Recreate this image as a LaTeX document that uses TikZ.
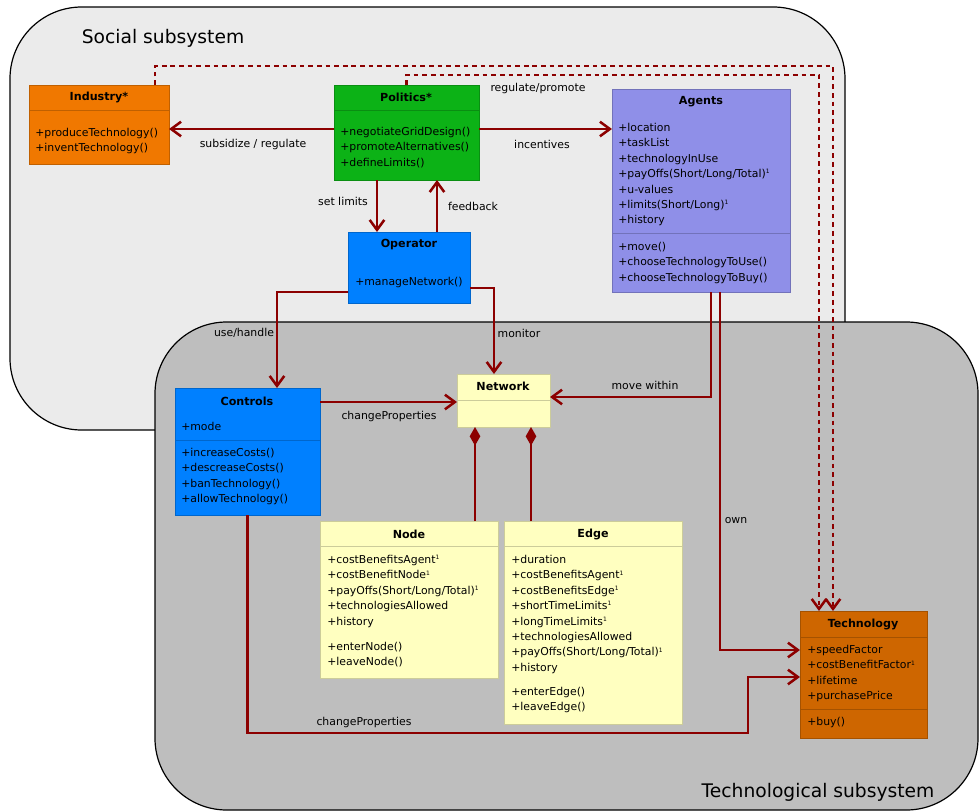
\documentclass[tikz,border=0pt]{standalone}
\usepackage{fontspec}
\setmainfont{DejaVu Sans}
\usetikzlibrary{arrows.meta,fit}

\definecolor{socialbg}{RGB}{235,235,235}
\definecolor{techbg}{RGB}{190,190,190}
\definecolor{indcol}{RGB}{240,120,0}
\definecolor{polcol}{RGB}{12,178,22}
\definecolor{agecol}{RGB}{143,143,232}
\definecolor{opcol}{RGB}{0,128,255}
\definecolor{netcol}{RGB}{255,255,192}
\definecolor{tecol}{RGB}{206,102,0}
\definecolor{arrowred}{RGB}{140,0,0}

\newcommand{\px}{0.0265cm}
\newcommand{\one}{\textsuperscript{\fontsize{4.5}{5}\selectfont 1}}

\begin{document}
\begin{tikzpicture}[x=0.0265cm,y=-0.0265cm,
	cls/.style={inner sep=0pt,outer sep=0pt,draw=#1!80!black,fill=#1,line width=0.5pt},
	sep/.style={draw=#1!80!black,line width=0.5pt},
	ttl/.style={inner sep=0pt,font=\bfseries\fontsize{8.4}{10}\selectfont},
	attr/.style={anchor=north west,align=left,inner sep=0pt,font=\fontsize{8.2}{11.6}\selectfont},
	lbl/.style={inner sep=0pt,font=\fontsize{8.2}{10}\selectfont},
	subttl/.style={inner sep=0pt,font=\fontsize{14.1}{16}\selectfont},
	region/.style={draw=black,line width=0.9pt,rounded corners=1.9cm},
	conn/.style={draw=arrowred,line width=1.9pt,-{Straight Barb[length=7.5pt,width=11pt]}},
	dep/.style={conn,dash pattern=on 3.5pt off 3pt},
	comp/.style={draw=arrowred,line width=1.9pt,-{Diamond[length=14pt,width=8pt]}}]
	\useasboundingbox (0,0) rectangle (980,812);

	% the two subsystems
	\draw[region,fill=socialbg] (10,7) rectangle (845,430);
	\node[subttl] (socialT) at (163,38) {Social subsystem};
	\draw[region,fill=techbg] (155,322) rectangle (978,810);
	\node[subttl] (techT) at (818,792) {Technological subsystem};

	% social classes
	\node[cls=indcol,fit={(29,85) (169,164)}] (industry) {};
	\draw[sep=indcol] (29,110) -- (169,110);
	\node[ttl] (industryT) at (99,97) {Industry*};
	\node[attr] (industryM) at (35,128) {+produceTechnology()\\+inventTechnology()};

	\node[cls=polcol,fit={(334,85) (479,180)}] (politics) {};
	\draw[sep=polcol] (334,110) -- (479,110);
	\node[ttl] (politicsT) at (406,97) {Politics*};
	\node[attr] (politicsM) at (340,127) {+negotiateGridDesign()\\+promoteAlternatives()\\+defineLimits()};

	\node[cls=agecol,fit={(612,89) (790,292)}] (agents) {};
	\draw[sep=agecol] (612,233) -- (790,233);
	\node[ttl] (agentsT) at (701,102) {Agents};
	\node[attr] (agentsA) at (618,123) {+location\\+taskList\\+technologyInUse\\+payOffs(Short/Long/Total)\one\\+u-values\\+limits(Short/Long)\one\\+history};
	\node[attr] (agentsM) at (618,242) {+move()\\+chooseTechnologyToUse()\\+chooseTechnologyToBuy()};

	\node[cls=opcol,fit={(348,232) (470,303)}] (operator) {};
	\node[ttl] (operatorT) at (409,245) {Operator};
	\node[attr] (operatorM) at (355,277) {+manageNetwork()};

	% technological classes
	\node[cls=opcol,fit={(175,388) (320,515)}] (controls) {};
	\draw[sep=opcol] (175,440) -- (320,440);
	\node[ttl] (controlsT) at (247,401) {Controls};
	\node[attr] (controlsA) at (181,422) {+mode};
	\node[attr] (controlsM) at (181,448) {+increaseCosts()\\+descreaseCosts()\\+banTechnology()\\+allowTechnology()};

	\node[cls=netcol,fit={(457,374) (550,427)}] (network) {};
	\draw[sep=netcol] (457,400) -- (550,400);
	\node[ttl] (networkT) at (503,386) {Network};

	\node[cls=netcol,fit={(320,521) (498,678)}] (nodebox) {};
	\draw[sep=netcol] (320,546) -- (498,546);
	\node[ttl] (nodeT) at (409,534) {Node};
	\node[attr] (nodeA) at (327,555) {+costBenefitsAgent\one\\+costBenefitNode\one\\+payOffs(Short/Long/Total)\one\\+technologiesAllowed\\+history};
	\node[attr] (nodeM) at (327,642) {+enterNode()\\+leaveNode()};

	\node[cls=netcol,fit={(504,521) (682,724)}] (edgebox) {};
	\draw[sep=netcol] (504,546) -- (682,546);
	\node[ttl] (edgeT) at (593,534) {Edge};
	\node[attr] (edgeA) at (511,555) {+duration\\+costBenefitsAgent\one\\+costBenefitsEdge\one\\+shortTimeLimits\one\\+longTimeLimits\one\\+technologiesAllowed\\+payOffs(Short/Long/Total)\one\\+history};
	\node[attr] (edgeM) at (511,687) {+enterEdge()\\+leaveEdge()};

	\node[cls=tecol,fit={(800,611) (927,738)}] (technology) {};
	\draw[sep=tecol] (800,637) -- (927,637);
	\draw[sep=tecol] (800,709) -- (927,709);
	\node[ttl] (technologyT) at (863,624) {Technology};
	\node[attr] (technologyA) at (807,645) {+speedFactor\\+costBenefitFactor\one\\+lifetime\\+purchasePrice};
	\node[attr] (technologyM) at (807,717) {+buy()};

	% bends of the long connectors
	\coordinate (dashA) at (500,66);
	\coordinate (dashB) at (600,75);
	\coordinate (cpbend) at (748,733);

	% connectors
	\draw[dep] ([xshift=56*\px]industry.north) |- (dashA) -| ([xshift=-30.5*\px]technology.north);
	\draw[dep] (politics.north) |- (dashB) -| ([xshift=-44.5*\px]technology.north);
	\draw[conn] ([yshift=3.5*\px]politics.west) -- ([yshift=3.5*\px]politics.west -| industry.east);
	\draw[conn] ([yshift=3.5*\px]politics.east) -- ([yshift=3.5*\px]politics.east -| agents.west);
	\draw[conn] ([xshift=-29.5*\px]politics.south) -- ([xshift=-29.5*\px]politics.south |- operator.north);
	\draw[conn] ([xshift=30.5*\px]operator.north -| politics.south) -- ([xshift=30.5*\px]politics.south);
	\draw[conn] ([yshift=-24.5*\px]operator.west) -| ([xshift=29.5*\px]controls.north);
	\draw[conn] ([yshift=-20.5*\px]operator.east) -| ([xshift=-9.5*\px]network.north);
	\draw[conn] ([xshift=10*\px]agents.south) |- ([yshift=3.5*\px]network.east);
	\draw[conn] ([xshift=19*\px]agents.south) |- ([yshift=24.5*\px]technology.west);
	\draw[conn] ([yshift=49.5*\px]controls.east) -- ([yshift=49.5*\px]controls.east -| network.west);
	\draw[conn] (controls.south) |- (cpbend) |- ([yshift=-2.5*\px]technology.west);
	\draw[comp] ([xshift=-28.5*\px]network.south |- nodebox.north) -- ([xshift=-28.5*\px]network.south);
	\draw[comp] ([xshift=27.5*\px]network.south |- edgebox.north) -- ([xshift=27.5*\px]network.south);

	% connector labels
	\node[lbl] (lsubs) at (253,144) {subsidize / regulate};
	\node[lbl] (linc) at (542,144) {incentives};
	\node[lbl] (lset) at (343,201) {set limits};
	\node[lbl] (lfeed) at (473,206) {feedback};
	\node[lbl] (lreg) at (538,88) {regulate/promote};
	\node[lbl] (luse) at (244,333) {use/handle};
	\node[lbl] (lmon) at (519,333) {monitor};
	\node[lbl] (lmove) at (645,385) {move within};
	\node[lbl] (lchange) at (389,416) {changeProperties};
	\node[lbl] (lown) at (736,521) {own};
	\node[lbl] (lchangeb) at (364,722) {changeProperties};
\end{tikzpicture}
\end{document}
